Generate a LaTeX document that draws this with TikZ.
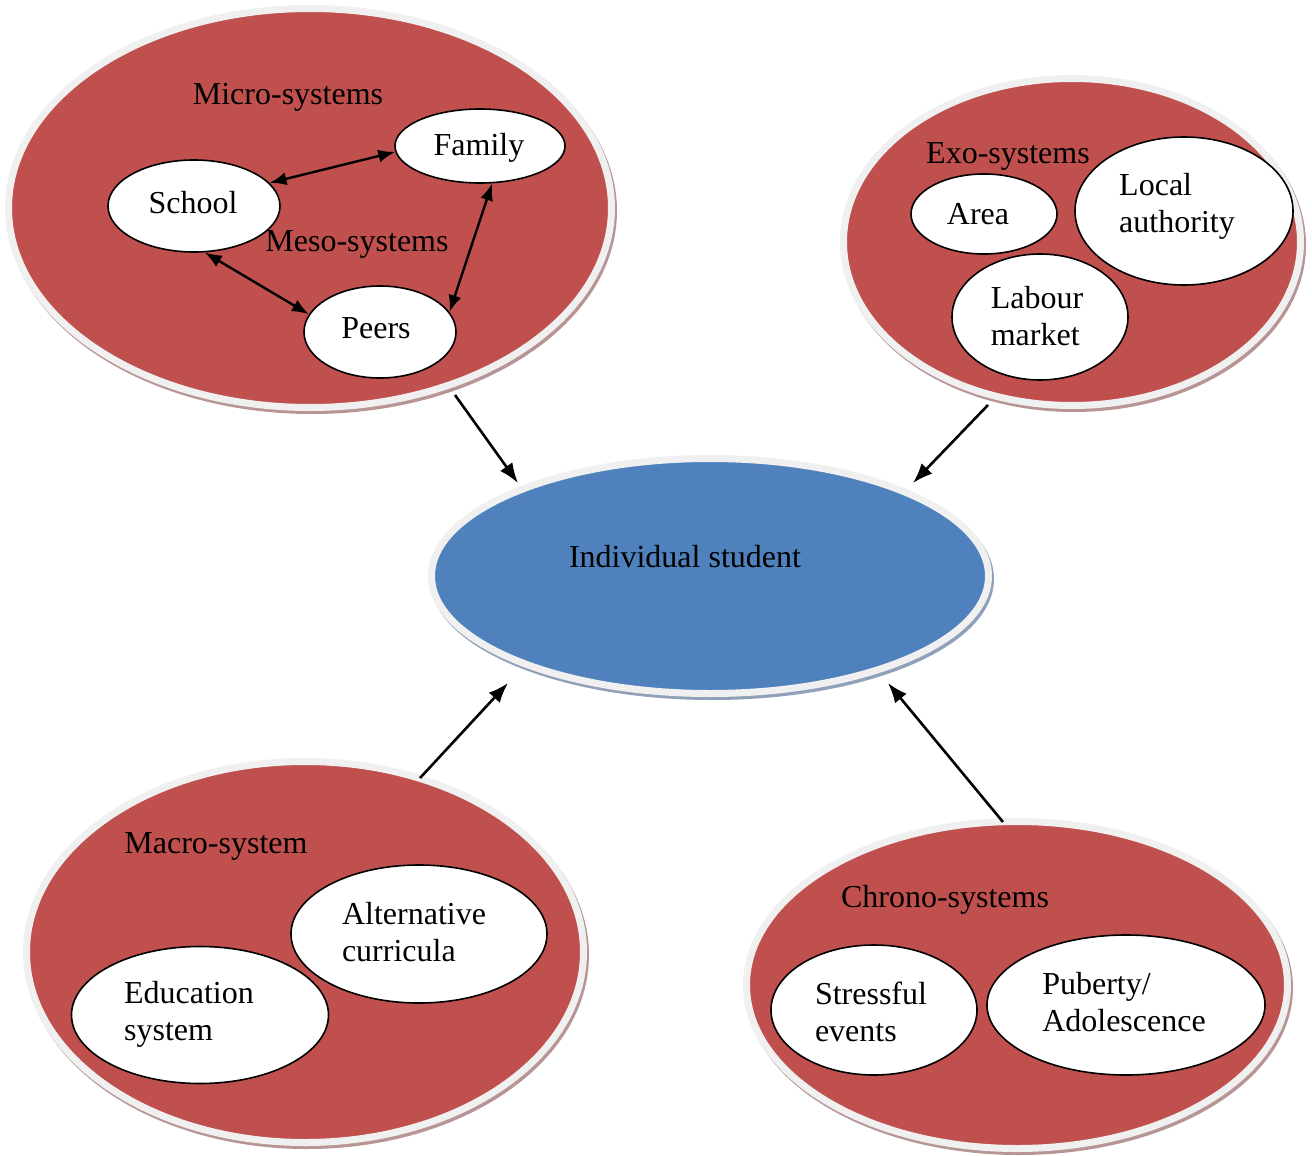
\documentclass[tikz,border=0pt]{standalone}
\usepackage{fontspec}
\setmainfont{Liberation Serif}
\usetikzlibrary{shapes.geometric,arrows.meta}
\definecolor{redfill}{HTML}{C0504D}
\definecolor{bluefill}{HTML}{4F81BD}
\definecolor{ringgrey}{HTML}{F0F0F0}
\definecolor{redshadow}{HTML}{B89595}
\definecolor{blueshadow}{HTML}{8FA0B8}
\begin{document}
\begin{tikzpicture}[x=1pt,y=-1pt,
  every node/.style={font=\fontsize{32}{37}\selectfont, inner sep=0pt},
  sysbox/.style={ellipse, draw=ringgrey, line width=7pt, fill=redfill,
    preaction={draw=redshadow, line width=7pt, transform canvas={xshift=2pt,yshift=-3pt}}},
  studentbox/.style={ellipse, draw=ringgrey, line width=7pt, fill=bluefill,
    preaction={draw=blueshadow, line width=7pt, transform canvas={xshift=2pt,yshift=-3pt}}},
  itembox/.style={ellipse, draw=black, line width=1.6pt, fill=white, align=left},
  title/.style={anchor=center},
  flow/.style={draw=black, line width=2.6pt, -{Latex[length=20pt,width=15pt]}},
  link/.style={draw=black, line width=2.4pt, {Latex[length=17pt,width=13pt]}-{Latex[length=17pt,width=13pt]}}]
\useasboundingbox (0,0) rectangle (1312,1156);

% Micro-systems
\node[sysbox, minimum width=603pt, minimum height=399pt] (micro) at (310,208) {};
\node[title] (microlbl) at (288,97) {Micro-systems};
\node[itembox, minimum width=172pt, minimum height=92pt] (school) at (194,206) {};
\node (schoollbl) at (193,203) {School};
\node[itembox, minimum width=170pt, minimum height=74pt] (family) at (480,146) {};
\node (familylbl) at (479,148) {Family};
\node[itembox, minimum width=152pt, minimum height=92pt] (peers) at (380,332) {};
\node (peerslbl) at (376,328) {Peers};
\node[title] (mesolbl) at (357,244) {Meso-systems};
\draw[link] (school.17) -- (family.184);
\draw[link] (school.-77) -- (peers.166);
\draw[link] (family.-72) -- (peers.16);

% Exo-systems
\node[sysbox, minimum width=457pt, minimum height=327pt] (exo) at (1072,242) {};
\node[title] (exolbl) at (1008,156) {Exo-systems};
\node[itembox, minimum width=146pt, minimum height=80pt] (area) at (984,214) {};
\node (arealbl) at (978,214) {Area};
\node[itembox, minimum width=218pt, minimum height=148pt] (local) at (1184,211) {};
\node[align=left] (locallbl) at (1177,206) {Local\\authority};
\node[itembox, minimum width=176pt, minimum height=126pt] (labour) at (1040,317) {};
\node[align=left] (labourlbl) at (1037,316) {Labour\\market};

% Individual student
\node[studentbox, minimum width=557pt, minimum height=235pt] (student) at (710,576) {};
\node[title] (studentlbl) at (685,557) {Individual student};

% Macro-system
\node[sysbox, minimum width=557pt, minimum height=381pt] (macro) at (305,952) {};
\node[title] (macrolbl) at (216,846) {Macro-system};
\node[itembox, minimum width=256pt, minimum height=138pt] (alt) at (419,934) {};
\node[align=left] (altlbl) at (414,932) {Alternative\\curricula};
\node[itembox, minimum width=257pt, minimum height=137pt] (edu) at (200,1015) {};
\node[align=left] (edulbl) at (189,1014) {Education\\system};

% Chrono-systems
\node[sysbox, minimum width=541pt, minimum height=327pt] (chrono) at (1017,985) {};
\node[title] (chronolbl) at (945,900) {Chrono-systems};
\node[itembox, minimum width=206pt, minimum height=130pt] (stress) at (874,1010) {};
\node[align=left] (stresslbl) at (871,1012) {Stressful\\events};
\node[itembox, minimum width=278pt, minimum height=140pt] (puberty) at (1126,1005) {};
\node[align=left] (pubertylbl) at (1124,1002) {Puberty/\\Adolescence};

% Main arrows
\coordinate (m1) at (455,395);
\coordinate (s1) at (518,483);
\coordinate (m2) at (988,405);
\coordinate (s2) at (913,483);
\coordinate (m3) at (420,778);
\coordinate (s3) at (508,683);
\coordinate (m4) at (1003,822);
\coordinate (s4) at (888,683);
\draw[flow] (m1) -- (s1);
\draw[flow] (m2) -- (s2);
\draw[flow] (m3) -- (s3);
\draw[flow] (m4) -- (s4);
\end{tikzpicture}
\end{document}
